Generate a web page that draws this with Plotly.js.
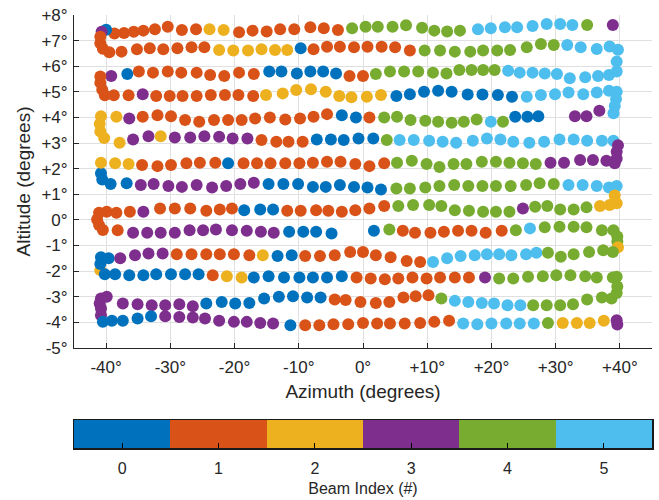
<!DOCTYPE html>
<html><head><meta charset="utf-8">
<script src="https://cdn.plot.ly/plotly-3.0.1.min.js"></script>
<style>html,body{margin:0;padding:0;background:#fff;} #chart{width:659px;height:500px;}</style>
</head><body><div id="chart"></div>
<script>
// Scan rows (serpentine), azimuth in degrees
const azimuthRows = [
 [38.9,34.9,32.6,30.7,28.6,26.4,24.0,22.1,19.9,17.9,15.1,13.1,11.1,9.2,6.7,4.6,2.3,0.4,-1.7,-3.9,-6.1,-8.2,-10.7,-12.9,-15.0,-17.2,-19.3,-21.7,-23.9,-26.0,-28.2,-30.4,-32.4,-34.2,-35.7,-37.2,-38.7,-40.0,-40.7,-40.9,-40.9,-40.5],
 [-39.5,-37.6,-35.2,-33.2,-31.1,-28.9,-26.7,-24.7,-22.4,-20.2,-17.9,-15.8,-13.7,-11.8,-9.7,-7.7,-5.6,-3.6,-1.4,0.7,2.9,5.0,7.3,9.6,12.0,14.3,16.7,18.7,20.9,22.9,25.5,27.7,29.7,31.8,33.9,36.4,38.4,39.7,39.5],
 [-39.2,-36.7,-34.9,-32.7,-30.4,-28.3,-25.9,-23.8,-21.6,-19.3,-17.0,-14.6,-12.7,-10.3,-8.2,-6.2,-4.2,-2.1,0.0,2.0,4.2,6.4,8.6,10.9,13.0,15.0,16.9,18.7,20.5,22.6,24.4,26.4,28.3,30.2,32.2,34.6,36.6,38.3,39.5],
 [-40.9,-40.9,-40.6,-40.2,-38.8,-36.5,-34.3,-32.2,-30.1,-28.1,-25.9,-23.7,-21.5,-19.4,-17.1,-15.1,-12.5,-10.4,-8.1,-5.8,-3.7,-1.8,0.6,2.8,5.2,7.3,9.5,11.7,13.8,16.3,18.6,21.0,23.2,25.5,27.7,29.9,32.0,34.3,36.4,38.3,39.5,39.4,39.2],
 [-40.3,-40.9,-41.0,-40.8,-38.4,-36.4,-34.3,-32.0,-29.9,-27.7,-25.5,-23.2,-21.0,-18.9,-16.8,-14.5,-12.1,-9.8,-7.7,-5.6,-3.3,-1.1,1.0,3.3,5.3,7.4,9.7,11.7,13.8,15.7,17.7,19.9,21.8,23.7,25.6,27.3,33.0,34.8,36.8,39.0],
 [-37.9,-35.8,-33.4,-31.5,-29.3,-26.9,-24.7,-22.4,-20.3,-18.0,-15.8,-13.5,-11.6,-9.4,-7.2,-5.0,-3.0,-0.7,1.6,3.7,5.7,7.9,10.3,12.4,14.5,17.1,19.3,21.4,23.4,25.9,28.2,30.6,32.8,34.9,37.2,39.0,39.7,39.5,39.5,39.2],
 [-40.6,-40.8,-40.8,-38.6,-36.5,-34.4,-32.0,-29.9,-27.5,-25.4,-23.0,-21.0,-18.6,-16.5,-14.4,-12.1,-9.9,-7.8,-5.6,-3.5,-1.2,1.0,3.3,5.3,7.6,9.9,11.9,14.1,16.1,18.5,20.7,22.8,24.9,26.9,29.2,31.3,33.8,35.8,37.9],
 [-39.3,-36.8,-34.6,-32.6,-30.3,-28.2,-25.9,-23.5,-21.3,-19.1,-17.0,-14.7,-12.4,-10.1,-7.8,-5.8,-3.6,-1.4,0.7,2.8,5.2,7.3,9.7,11.9,14.2,16.4,18.6,20.7,23.0,25.4,27.5,29.7,32.0,34.2,36.4,38.3,39.5,39.2,39.5],
 [-39.9,-38.4,-36.3,-34.2,-31.6,-29.3,-26.9,-24.4,-22.3,-20.4,-18.5,-16.0,-14.0,-11.8,-9.7,-7.3,-5.4,-3.3,-1.2,1.0,3.3,5.5,7.8,10.3,12.2,14.3,16.5,18.7,20.7,22.8,24.9,26.8,28.7,30.7,32.8,34.8,36.9,38.4],
 [-41.1,-41.4,-41.1,-40.5,-38.2,-35.8,-33.6,-31.5,-29.3,-27.0,-24.9,-22.9,-20.4,-18.1,-15.9,-13.9,-11.5,-9.3,-7.3,-4.9,1.7,4.1,6.2,8.1,10.5,12.6,14.8,16.9,19.1,21.6,23.8,26.0,28.3,30.6,32.8,34.8,37.2,39.0,39.6,39.6,39.7,38.9],
 [-40.9,-40.9,-40.8,-39.6,-37.8,-35.5,-33.4,-31.2,-29.0,-26.7,-24.4,-22.3,-20.1,-17.7,-15.6,-13.3,-11.1,-9.0,-6.7,-4.4,-2.0,0.0,2.0,4.3,6.8,8.9,10.9,13.1,15.2,17.4,19.3,21.2,23.1,25.4,27.0,28.8,30.8,32.8,35.2,37.4],
 [-40.2,-38.6,-36.4,-34.2,-32.2,-29.9,-27.7,-25.6,-23.4,-21.2,-18.9,-17.0,-14.7,-12.3,-9.9,-7.8,-5.6,-3.3,-1.0,1.2,3.4,5.5,7.7,9.9,12.0,14.3,16.5,19.0,21.2,23.4,25.7,28.0,30.1,32.3,34.6,36.4,38.9,39.5,39.6,39.5],
 [-40.8,-39.9,-37.4,-35.1,-32.9,-30.8,-28.6,-26.5,-24.4,-22.0,-19.9,-17.7,-15.4,-13.1,-10.9,-8.7,-6.6,-4.4,-2.7,-0.4,2.0,4.1,6.3,8.2,10.2,12.2,14.3,16.4,18.5,20.4,22.5,24.5,26.5,28.6,30.7,32.7,34.9,37.2,38.7],
 [-41.0,-40.8,-40.8,-40.5,-39.1,-37.4,-35.1,-33.0,-30.8,-28.6,-26.5,-24.6,-22.4,-20.1,-18.1,-16.0,-14.0,-11.3,-9.0,-6.8,-4.6,-2.3,0.0,2.2,4.2,6.5,8.9,11.1,13.4,15.6,17.8,20.0,22.3,24.4,26.6,28.8,31.1,33.3,35.3,37.5,39.5,39.6]
];
// Altitude in degrees
const altitudeRows = [
 [7.61,7.61,7.61,7.65,7.65,7.57,7.52,7.52,7.48,7.44,7.39,7.36,7.39,7.50,7.60,7.54,7.54,7.54,7.48,7.41,7.48,7.52,7.44,7.44,7.36,7.39,7.33,7.41,7.44,7.44,7.41,7.54,7.44,7.39,7.35,7.30,7.28,7.42,7.35,7.15,6.90,6.68],
 [6.55,6.57,6.66,6.70,6.66,6.70,6.74,6.74,6.63,6.61,6.61,6.66,6.63,6.63,6.70,6.66,6.76,6.76,6.74,6.76,6.76,6.74,6.61,6.61,6.61,6.57,6.57,6.61,6.61,6.63,6.74,6.87,6.83,6.83,6.74,6.67,6.77,6.64,6.18],
 [5.62,5.70,5.79,5.75,5.79,5.75,5.75,5.66,5.62,5.75,5.70,5.79,5.79,5.72,5.79,5.79,5.72,5.62,5.62,5.70,5.79,5.79,5.79,5.75,5.72,5.85,5.85,5.85,5.85,5.82,5.75,5.75,5.72,5.70,5.53,5.57,5.62,5.66,5.79],
 [5.60,5.35,5.08,4.87,4.87,4.87,4.91,4.84,4.84,4.84,4.84,4.88,4.88,4.88,4.84,4.88,4.94,5.07,5.10,5.00,4.84,4.79,4.81,4.88,4.84,4.91,5.00,5.04,5.00,4.90,4.90,4.88,4.81,4.81,4.88,4.91,4.97,4.91,4.97,5.04,5.00,4.72,4.45],
 [3.20,3.45,3.75,4.05,4.03,3.96,4.03,4.09,4.05,3.90,3.83,3.90,3.90,3.90,3.96,4.00,3.92,3.96,4.03,4.13,4.09,4.00,4.00,4.00,4.03,3.90,3.87,3.83,3.79,3.83,3.92,3.83,3.83,4.03,4.03,4.05,4.05,4.05,4.26,4.16],
 [3.01,3.14,3.27,3.27,3.22,3.22,3.27,3.25,3.18,3.18,3.12,3.05,3.05,3.05,3.14,3.14,3.12,3.18,3.18,3.12,3.12,3.12,3.09,3.05,3.01,3.09,3.18,3.14,3.05,3.01,3.05,3.14,3.14,3.09,3.09,3.09,2.92,2.66,2.40,2.21],
 [1.58,1.82,2.23,2.21,2.18,2.14,2.10,2.14,2.21,2.23,2.23,2.21,2.21,2.21,2.21,2.21,2.21,2.23,2.27,2.27,2.18,2.10,2.21,2.23,2.31,2.18,2.07,2.18,2.18,2.27,2.27,2.23,2.21,2.18,2.23,2.23,2.34,2.34,2.31],
 [1.40,1.43,1.36,1.40,1.32,1.29,1.36,1.27,1.32,1.40,1.45,1.40,1.40,1.40,1.29,1.29,1.36,1.29,1.27,1.19,1.23,1.23,1.27,1.32,1.36,1.32,1.32,1.32,1.32,1.36,1.43,1.40,1.36,1.36,1.32,1.27,1.32,0.95,0.65],
 [0.32,0.28,0.32,0.32,0.45,0.45,0.45,0.36,0.41,0.45,0.38,0.41,0.41,0.36,0.36,0.38,0.36,0.32,0.38,0.45,0.54,0.54,0.58,0.58,0.54,0.38,0.36,0.32,0.32,0.32,0.45,0.51,0.54,0.41,0.41,0.49,0.54,0.58],
 [0.28,0.02,-0.20,-0.39,-0.40,-0.50,-0.50,-0.50,-0.50,-0.40,-0.40,-0.37,-0.40,-0.42,-0.46,-0.50,-0.46,-0.46,-0.46,-0.53,-0.42,-0.37,-0.42,-0.50,-0.50,-0.46,-0.42,-0.42,-0.50,-0.42,-0.40,-0.33,-0.29,-0.27,-0.27,-0.29,-0.40,-0.40,-0.65,-0.85,-1.07,-1.25],
 [-1.96,-1.72,-1.46,-1.50,-1.50,-1.38,-1.31,-1.31,-1.34,-1.34,-1.34,-1.34,-1.34,-1.38,-1.38,-1.41,-1.38,-1.41,-1.41,-1.38,-1.25,-1.25,-1.38,-1.46,-1.60,-1.64,-1.64,-1.50,-1.41,-1.38,-1.34,-1.34,-1.38,-1.34,-1.28,-1.28,-1.44,-1.34,-1.25,-1.18],
 [-2.12,-2.12,-2.16,-2.16,-2.12,-2.12,-2.12,-2.12,-2.16,-2.20,-2.25,-2.25,-2.20,-2.25,-2.25,-2.25,-2.25,-2.20,-2.25,-2.29,-2.32,-2.29,-2.25,-2.29,-2.25,-2.25,-2.25,-2.25,-2.29,-2.29,-2.22,-2.20,-2.16,-2.16,-2.20,-2.25,-2.25,-2.22,-2.60,-2.85],
 [-3.07,-3.00,-3.26,-3.29,-3.33,-3.33,-3.29,-3.37,-3.26,-3.20,-3.26,-3.24,-3.07,-3.00,-2.98,-3.03,-3.03,-3.11,-3.13,-3.20,-3.24,-3.20,-3.03,-2.98,-2.94,-3.07,-3.16,-3.20,-3.24,-3.26,-3.33,-3.33,-3.33,-3.33,-3.33,-3.29,-3.11,-3.03,-3.07],
 [-3.26,-3.46,-3.72,-3.98,-3.94,-3.94,-3.85,-3.76,-3.76,-3.79,-3.81,-3.85,-3.94,-3.98,-3.98,-4.02,-4.04,-4.11,-4.11,-4.11,-4.07,-4.07,-4.02,-4.04,-4.04,-4.04,-4.02,-3.98,-3.94,-4.04,-4.07,-4.04,-4.04,-4.04,-4.04,-4.02,-4.02,-4.02,-4.02,-3.94,-3.92,-4.08]
];
// Beam index per point (0..5)
const beamRows = [
 [3,4,5,5,5,5,5,5,5,5,4,4,4,4,4,4,4,4,4,1,1,1,1,1,1,1,1,2,2,1,1,1,1,1,1,1,1,0,3,1,1,1],
 [1,1,1,1,1,1,1,1,2,2,2,2,2,2,0,1,1,1,1,1,1,1,1,4,4,4,4,4,4,4,4,4,4,5,5,5,5,5,5],
 [3,0,1,1,1,1,1,1,1,1,1,0,0,0,0,0,0,1,1,4,4,4,4,4,4,4,4,4,4,5,5,5,5,5,5,5,5,5,5],
 [1,1,1,1,1,1,3,1,1,1,1,1,1,1,1,2,2,2,2,2,2,2,2,2,0,0,0,0,0,0,0,0,0,5,5,5,5,5,5,5,5,5,5],
 [2,2,2,2,2,3,1,1,1,1,1,1,1,1,1,1,1,1,1,1,0,0,1,4,4,4,4,4,4,4,4,5,4,0,0,0,3,3,3,5],
 [2,3,3,2,3,3,3,3,3,3,1,1,1,1,0,0,0,0,0,4,5,5,5,5,5,5,5,5,5,5,5,5,5,5,5,5,3,3,3,3],
 [0,0,2,2,2,1,1,1,1,1,1,0,1,1,1,1,1,1,1,1,1,1,1,4,4,4,4,4,4,4,4,4,4,4,3,3,3,3,3],
 [0,0,3,3,3,3,3,3,3,3,3,0,0,0,0,0,0,0,0,0,4,4,4,4,4,4,4,4,4,4,4,4,5,5,5,5,5,2,2],
 [1,1,1,3,1,1,1,1,1,1,0,0,0,1,1,1,1,1,1,1,1,4,4,4,4,4,4,4,4,4,3,4,4,4,4,4,2,2],
 [1,1,1,1,1,3,3,3,3,3,3,3,3,3,3,3,0,0,0,0,0,4,1,1,1,1,1,1,1,1,4,5,4,4,4,4,4,4,4,4,2,4],
 [2,0,0,0,3,3,3,3,1,1,1,1,1,1,2,0,0,1,1,1,1,1,1,1,1,1,5,5,5,5,5,5,5,5,5,4,4,4,4,4],
 [0,0,0,0,0,0,0,0,1,2,2,0,0,0,0,0,0,0,1,1,1,1,1,1,1,1,1,3,4,4,4,4,4,4,4,4,4,4,4,4],
 [3,3,3,3,3,3,3,3,0,0,0,0,0,0,0,0,0,1,1,1,1,1,1,1,1,4,5,5,5,5,5,5,4,4,4,4,4,4,4],
 [3,3,3,0,0,0,0,0,3,3,3,3,3,3,3,3,3,0,1,1,1,1,1,1,1,1,1,1,1,5,5,5,5,5,5,4,2,2,2,2,3,3]
];
const beamLabels = [0, 1, 2, 3, 4, 5];
const beamColors = ['#0072BD', '#D95319', '#EDB120', '#7E2F8E', '#77AC30', '#4DBEEE'];
const xTickVals = [-40, -30, -20, -10, 0, 10, 20, 30, 40];
const xTickText = ['-40°', '-30°', '-20°', '-10°', '0°', '+10°', '+20°', '+30°', '+40°'];
const yTickVals = [8, 7, 6, 5, 4, 3, 2, 1, 0, -1, -2, -3, -4, -5];
const yTickText = ['+8°', '+7°', '+6°', '+5°', '+4°', '+3°', '+2°', '+1°', '0°', '-1°', '-2°', '-3°', '-4°', '-5°'];

const n = beamColors.length;
const colorscale = [];
beamColors.forEach((c, i) => { colorscale.push([i / n, c]); colorscale.push([(i + 1) / n, c]); });

const FONT = 'Liberation Sans, Arial, Helvetica, sans-serif';
const TXT = '#262626';

const scan = {
  type: 'scatter', mode: 'markers',
  x: azimuthRows.flat(), y: altitudeRows.flat(),
  marker: { color: beamRows.flat(), colorscale: colorscale, cmin: -0.5, cmax: 5.5, showscale: false, size: 12, line: { width: 0 } },
  hoverinfo: 'x+y', xaxis: 'x', yaxis: 'y'
};
const bar = {
  type: 'heatmap', x: beamLabels, y: [0], z: [beamLabels],
  colorscale: colorscale, zmin: -0.5, zmax: 5.5, showscale: false,
  xaxis: 'x2', yaxis: 'y2', hoverinfo: 'none'
};

const H = 433;
const layout = {
  width: 659, height: 500,
  margin: { l: 74, r: 7, t: 15, b: 52, pad: 0 },
  paper_bgcolor: '#fff', plot_bgcolor: '#fff',
  showlegend: false,
  font: { family: FONT, color: TXT, size: 16 },
  xaxis: {
    domain: [0, 1], anchor: 'y', range: [-45, 45],
    tickvals: xTickVals, ticktext: xTickText, tickfont: { size: 17, color: TXT },
    ticks: 'inside', ticklen: 5, tickcolor: TXT,
    showgrid: true, gridcolor: '#e0e0e0', gridwidth: 1, zeroline: false,
    showline: true, linecolor: TXT, linewidth: 1,
    ticklabelstandoff: 4,
    title: { text: 'Azimuth (degrees)', font: { size: 19, color: TXT }, standoff: 8 }
  },
  yaxis: {
    domain: [(448 - 348) / H, 1], anchor: 'x', range: [-5, 8],
    tickvals: yTickVals, ticktext: yTickText, tickfont: { size: 17, color: TXT },
    ticks: 'inside', ticklen: 5, tickcolor: TXT,
    showgrid: true, gridcolor: '#e0e0e0', gridwidth: 1, zeroline: false,
    showline: true, linecolor: TXT, linewidth: 1,
    ticklabelstandoff: 2,
    title: { text: 'Altitude (degrees)', font: { size: 19, color: TXT }, standoff: 5 }
  },
  xaxis2: {
    domain: [0, 1], anchor: 'y2', range: [-0.5, 5.5],
    tickvals: beamLabels, ticktext: beamLabels.map(String), tickfont: { size: 16, color: TXT },
    ticks: 'inside', ticklen: 5, tickcolor: '#000', tickwidth: 1,
    showgrid: false, zeroline: false, showline: true, mirror: true, linecolor: '#1a1a1a', linewidth: 1.5,
    ticklabelstandoff: 5,
    title: { text: 'Beam Index (#)', font: { size: 16, color: TXT }, standoff: 7 }
  },
  yaxis2: {
    domain: [0, (448 - 420) / H], anchor: 'x2', range: [-0.5, 0.5],
    showticklabels: false, ticks: '', showgrid: false, zeroline: false,
    showline: true, mirror: true, linecolor: '#1a1a1a', linewidth: 1.5
  }
};

Plotly.newPlot('chart', [bar, scan], layout, { displayModeBar: false, staticPlot: true });
</script>
</body></html>
